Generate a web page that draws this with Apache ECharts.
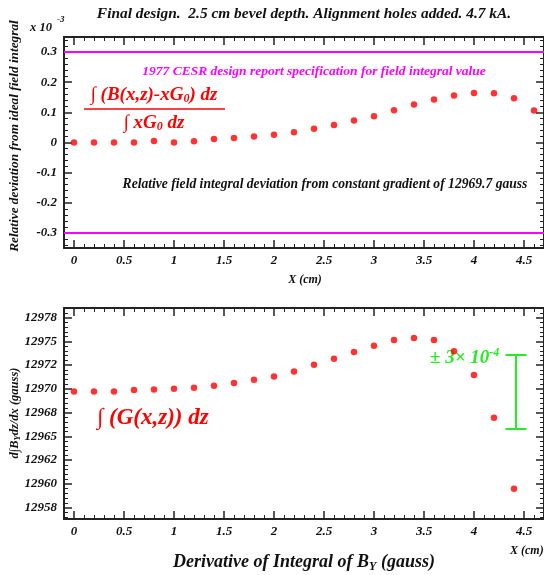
<!DOCTYPE html>
<html><head><meta charset="utf-8">
<script src="https://cdn.jsdelivr.net/npm/echarts@6/dist/echarts.min.js"></script>
<style>html,body{margin:0;padding:0;background:#fff}#c{width:544px;height:575px}</style>
</head><body><div id="c"></div>
<script>
// ---- data ----
const xPos = [0,0.2,0.4,0.6,0.8,1.0,1.2,1.4,1.6,1.8,2.0,2.2,2.4,2.6,2.8,3.0,3.2,3.4,3.6,3.8,4.0,4.2,4.4,4.6];
const relDev = [0,0,0,0,0.005,0,0.004,0.012,0.015,0.02,0.026,0.034,0.046,0.058,0.073,0.087,0.107,0.126,0.143,0.156,0.164,0.163,0.147,0.106];
const xPosB = [0,0.2,0.4,0.6,0.8,1.0,1.2,1.4,1.6,1.8,2.0,2.2,2.4,2.6,2.8,3.0,3.2,3.4,3.6,3.8,4.0,4.2,4.4];
const gradInt = [12969.72,12969.72,12969.72,12969.86,12969.93,12970.0,12970.1,12970.32,12970.6,12970.95,12971.3,12971.83,12972.53,12973.16,12973.87,12974.54,12975.14,12975.35,12975.14,12973.94,12971.45,12966.94,12959.48];
const specLimit = 0.3;            // ×10^-3
const gradient0 = 12969.7;        // gauss
const errRel = 3e-4;
const errX = 4.42;
const errCapHalf = 0.105;
const xMajor = [0,0.5,1,1.5,2,2.5,3,3.5,4,4.5];
const xLabels = ['0','0.5','1','1.5','2','2.5','3','3.5','4','4.5'];
const yTopMajor = [-0.3,-0.2,-0.1,0,0.1,0.2,0.3];
const yTopLabels = ['-0.3','-0.2','-0.1','0','0.1','0.2','0.3'];
const yBotMajor = [12957.5,12960,12962.5,12965,12967.5,12970,12972.5,12975,12977.5];
const yBotLabels = ['12958','12960','12962','12965','12968','12970','12972','12975','12978'];

// ---- helpers ----
function range(a,b,s){const r=[];for(let v=a;v<=b+1e-9;v+=s)r.push(Math.round(v*1000)/1000);return r;}
const xMinor = range(-0.1,4.7,0.1).filter(v=>!xMajor.some(m=>Math.abs(m-v)<1e-6));
const yTopMinor = range(-0.34,0.34,0.02).filter(v=>!yTopMajor.some(m=>Math.abs(m-v)<1e-6));
const yBotMinor = range(12956.5,12978.5,0.5).filter(v=>!yBotMajor.some(m=>Math.abs(m-v)<1e-6));

const FF = '"Liberation Serif","Times New Roman",serif';
const lblStyle = {fontFamily:FF,fontWeight:'bold',fontStyle:'italic',fontSize:13,color:'#111'};
const lineCol = '#222';

function lbl(arr, vals){return function(v){for(let i=0;i<arr.length;i++){if(Math.abs(arr[i]-v)<1e-6)return vals[i];}return '';};}

function xAxes(grid){
  const base = {type:'value',gridIndex:grid,min:-0.1,max:4.7,splitLine:{show:false}};
  return [
    Object.assign({},base,{position:'bottom',axisLine:{show:true,onZero:false,lineStyle:{color:lineCol,width:2}},
      axisTick:{show:true,inside:true,length:8,customValues:xMajor,lineStyle:{color:lineCol,width:1.5}},
      axisLabel:Object.assign({show:true,margin:6,customValues:xMajor,formatter:lbl(xMajor,xLabels)},lblStyle)}),
    Object.assign({},base,{position:'bottom',axisLine:{show:false,onZero:false},
      axisTick:{show:true,inside:true,length:4,customValues:xMinor,lineStyle:{color:lineCol,width:1}},axisLabel:{show:false}}),
    Object.assign({},base,{position:'top',axisLine:{show:true,onZero:false,lineStyle:{color:lineCol,width:2}},
      axisTick:{show:true,inside:true,length:8,customValues:xMajor,lineStyle:{color:lineCol,width:1.5}},axisLabel:{show:false}}),
    Object.assign({},base,{position:'top',axisLine:{show:false,onZero:false},
      axisTick:{show:true,inside:true,length:4,customValues:xMinor,lineStyle:{color:lineCol,width:1}},axisLabel:{show:false}})
  ];
}
function yAxes(grid,min,max,major,labels,minor){
  const base = {type:'value',gridIndex:grid,min:min,max:max,splitLine:{show:false}};
  return [
    Object.assign({},base,{position:'left',axisLine:{show:true,onZero:false,lineStyle:{color:lineCol,width:2}},
      axisTick:{show:true,inside:true,length:8,customValues:major,lineStyle:{color:lineCol,width:1.5}},
      axisLabel:Object.assign({show:true,margin:7,customValues:major,formatter:lbl(major,labels)},lblStyle)}),
    Object.assign({},base,{position:'left',axisLine:{show:false,onZero:false},
      axisTick:{show:true,inside:true,length:4,customValues:minor,lineStyle:{color:lineCol,width:1}},axisLabel:{show:false}}),
    Object.assign({},base,{position:'right',axisLine:{show:true,onZero:false,lineStyle:{color:lineCol,width:2}},
      axisTick:{show:true,inside:true,length:8,customValues:major,lineStyle:{color:lineCol,width:1.5}},axisLabel:{show:false}}),
    Object.assign({},base,{position:'right',axisLine:{show:false,onZero:false},
      axisTick:{show:true,inside:true,length:4,customValues:minor,lineStyle:{color:lineCol,width:1}},axisLabel:{show:false}})
  ];
}

const errTop = gradient0*(1+errRel), errBot = gradient0*(1-errRel);
const green = '#22ee22';
const magenta = '#ff00ff';
const red = '#ff0000';

const txt = (o)=>Object.assign({fontFamily:FF,fontWeight:'bold',fontStyle:'italic'},o);
const rs = (size,fill,extra)=>Object.assign({fontFamily:FF,fontWeight:'bold',fontStyle:'italic',fontSize:size,fill:fill},extra||{});

const option = {
  animation:false,
  grid:[{left:64,top:37,width:480,height:211},{left:64,top:308,width:480,height:211}],
  xAxis:[...xAxes(0),...xAxes(1)],
  yAxis:[...yAxes(0,-0.35,0.35,yTopMajor,yTopLabels,yTopMinor),...yAxes(1,12956.3,12978.5,yBotMajor,yBotLabels,yBotMinor)],
  series:[
    {type:'line',xAxisIndex:0,yAxisIndex:0,data:[[-0.1,specLimit],[4.7,specLimit]],symbol:'none',lineStyle:{color:magenta,width:2},z:3},
    {type:'line',xAxisIndex:0,yAxisIndex:0,data:[[-0.1,-specLimit],[4.7,-specLimit]],symbol:'none',lineStyle:{color:magenta,width:2},z:3},
    {type:'scatter',xAxisIndex:0,yAxisIndex:0,data:xPos.map((x,i)=>[x,relDev[i]]),symbol:'circle',symbolSize:6.5,itemStyle:{color:red},z:4},
    {type:'scatter',xAxisIndex:4,yAxisIndex:4,data:xPosB.map((x,i)=>[x,gradInt[i]]),symbol:'circle',symbolSize:6.5,itemStyle:{color:red},z:4},
    {type:'lines',coordinateSystem:'cartesian2d',xAxisIndex:4,yAxisIndex:4,
      data:[{coords:[[errX,errBot],[errX,errTop]]},{coords:[[errX-errCapHalf,errTop],[errX+errCapHalf,errTop]]},{coords:[[errX-errCapHalf,errBot],[errX+errCapHalf,errBot]]}],
      lineStyle:{color:green,width:2,opacity:1},z:4}
  ],
  graphic:[
    {type:'text',x:304,y:14,style:txt({text:'Final design.  2.5 cm bevel depth. Alignment holes added. 4.7 kA.',fontSize:15.4,fill:'#111',align:'center',verticalAlign:'middle'})},
    {type:'text',x:30,y:28,style:txt({text:'x 10',fontSize:12.5,fill:'#111',align:'left',verticalAlign:'middle'})},
    {type:'text',x:57,y:20,style:txt({text:'-3',fontSize:9,fill:'#111',align:'left',verticalAlign:'middle'})},
    {type:'text',x:15,y:136,rotation:Math.PI/2,style:txt({text:'Relative deviation from ideal field integral',fontSize:13.3,fill:'#111',align:'center',verticalAlign:'middle'})},
    {type:'text',x:305,y:280,style:txt({text:'X (cm)',fontSize:12,fill:'#111',align:'center',verticalAlign:'middle'})},
    {type:'text',x:314,y:72,style:txt({text:'1977 CESR design report specification for field integral value',fontSize:13.5,fill:magenta,align:'center',verticalAlign:'middle'})},
    {type:'text',x:154,y:95,style:txt({rich:{a:rs(19,red),s:rs(12,red,{padding:[8,0,0,0]})},text:'{a|∫ (B(x,z)-xG}{s|0}{a|) dz}',align:'center',verticalAlign:'middle'})},
    {type:'line',shape:{x1:84,y1:109,x2:225,y2:109},style:{stroke:red,lineWidth:1.5}},
    {type:'text',x:154,y:123,style:txt({rich:{a:rs(19,red),s:rs(12,red,{padding:[8,0,0,0]})},text:'{a|∫ xG}{s|0}{a| dz}',align:'center',verticalAlign:'middle'})},
    {type:'text',x:325,y:184,style:txt({text:'Relative field integral deviation from constant gradient of 12969.7 gauss',fontSize:13.6,fill:'#111',align:'center',verticalAlign:'middle'})},
    {type:'text',x:15,y:413,rotation:Math.PI/2,style:txt({rich:{a:rs(12.5,'#111'),s:rs(8.5,'#111',{padding:[6,0,0,0]})},text:'{a|d∫B}{s|Y}{a|dz/dx (gauss)}',align:'center',verticalAlign:'middle'})},
    {type:'text',x:97,y:418,style:txt({text:'∫ (G(x,z)) dz',fontSize:23,fill:red,align:'left',verticalAlign:'middle'})},
    {type:'text',x:430,y:358,style:txt({rich:{a:rs(19,green),s:rs(12,green,{padding:[0,0,11,0]})},text:'{a|± 3× 10}{s|-4}',align:'left',verticalAlign:'middle'})},
    {type:'text',x:304,y:562,style:txt({rich:{a:rs(18,'#111'),s:rs(12,'#111',{padding:[9,0,0,0]})},text:'{a|Derivative of Integral of B}{s|Y}{a| (gauss)}',align:'center',verticalAlign:'middle'})},
    {type:'text',x:510,y:551,style:txt({text:'X (cm)',fontSize:12,fill:'#111',align:'left',verticalAlign:'middle'})}
  ]
};
const chart = echarts.init(document.getElementById('c'),null,{renderer:'canvas'});
chart.setOption(option);
</script></body></html>
